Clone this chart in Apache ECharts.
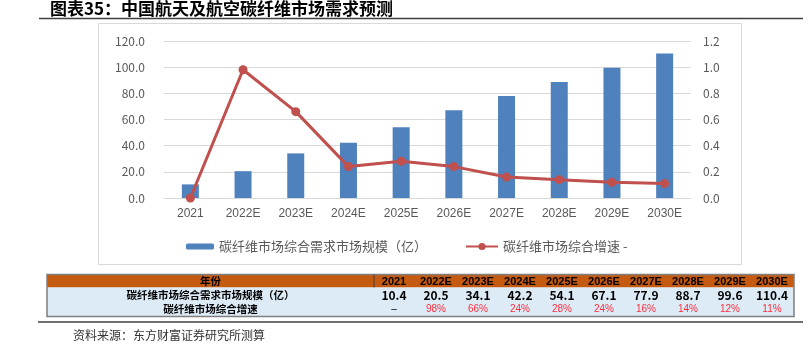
<!DOCTYPE html>
<html><head><meta charset="utf-8">
<script src="https://cdn.jsdelivr.net/npm/echarts@6/dist/echarts.min.js"></script>
<style>html,body{margin:0;padding:0;background:#fff}#c{width:809px;height:350px}</style>
</head><body><div id="c"></div>
<script>
const titleText = '图表35：中国航天及航空碳纤维市场需求预测';
const sourceText = '资料来源：东方财富证券研究所测算';
const categories = ['2021','2022E','2023E','2024E','2025E','2026E','2027E','2028E','2029E','2030E'];
const marketSize = [10.4,20.5,34.1,42.2,54.1,67.1,77.9,88.7,99.6,110.4];
const growthRate = [0,0.98,0.66,0.24,0.28,0.24,0.16,0.14,0.12,0.11];
const growthLabels = ['–','98%','66%','24%','28%','24%','16%','14%','12%','11%'];
const barName = '碳纤维市场综合需求市场规模（亿）';
const lineName = '碳纤维市场综合增速 -';
const tableHeader = '年份';
const tableRow1 = '碳纤维市场综合需求市场规模（亿）';
const tableRow2 = '碳纤维市场综合增速';

const FONT = '"Noto Sans CJK SC", "Noto Sans", sans-serif';
const chart = echarts.init(document.getElementById('c'), null, {renderer:'canvas'});

// table geometry
const tX = 47, tLabelW = 327, tColW = 42, tTop = 274.5, hH = 13, r1H = 14.5, r2H = 14.5;
const tW = tLabelW + tColW * categories.length;
const g = [];
// chart frame
g.push({type:'rect', z:-10, silent:true, shape:{x:98.5,y:23.5,width:643,height:241}, style:{fill:'#fff', stroke:'#d9d9d9', lineWidth:1}});
// title
g.push({type:'text', left:50, top:0, style:{text:titleText, font:'bold 17px ' + FONT, fill:'#000'}});
g.push({type:'line', shape:{x1:39,y1:18.5,x2:803,y2:18.5}, style:{stroke:'#404040', lineWidth:1.5}});
// table backgrounds
g.push({type:'rect', shape:{x:tX,y:tTop,width:tW,height:hH}, style:{fill:'#C55A11'}});
g.push({type:'rect', shape:{x:tX,y:tTop+hH,width:tW,height:r1H+r2H}, style:{fill:'#DDEBF7'}});
g.push({type:'rect', shape:{x:tX,y:tTop,width:tW,height:hH+r1H+r2H}, style:{fill:null, stroke:'#7f7f7f', lineWidth:1.5}});
g.push({type:'line', shape:{x1:tX+tLabelW,y1:tTop,x2:tX+tLabelW,y2:tTop+hH}, style:{stroke:'#404040', lineWidth:1}});
const labelCx = tX + tLabelW/2;
g.push({type:'text', style:{x:labelCx, y:tTop+hH/2+0.5, text:tableHeader, font:'bold 10.5px ' + FONT, fill:'#000', align:'center', verticalAlign:'middle'}});
g.push({type:'text', style:{x:labelCx, y:tTop+hH+r1H/2+0.5, text:tableRow1, font:'bold 10.5px ' + FONT, fill:'#000', align:'center', verticalAlign:'middle'}});
g.push({type:'text', style:{x:labelCx, y:tTop+hH+r1H+r2H/2, text:tableRow2, font:'bold 10.5px ' + FONT, fill:'#000', align:'center', verticalAlign:'middle'}});
categories.forEach((c,i)=>{
  const cx = tX + tLabelW + tColW*i + tColW/2 - 1;
  g.push({type:'text', style:{x:cx, y:tTop+hH/2+0.5, text:c, font:'bold 11px Arial, "Liberation Sans", sans-serif', fill:'#000', align:'center', verticalAlign:'middle'}});
  g.push({type:'text', style:{x:cx, y:tTop+hH+r1H/2+0.5, text:marketSize[i].toFixed(1), font:'bold 12px ' + FONT, fill:'#000', align:'center', verticalAlign:'middle'}});
  g.push({type:'text', style:{x:cx, y:tTop+hH+r1H+r2H/2, text:growthLabels[i], font:'10px Arial, "Liberation Sans", sans-serif', fill: i===0 ? '#000' : '#FF2D3C', align:'center', verticalAlign:'middle'}});
});
// bottom line and source
g.push({type:'line', shape:{x1:38,y1:322,x2:803,y2:322}, style:{stroke:'#404040', lineWidth:1.5}});
g.push({type:'text', style:{x:73, y:335, text:sourceText, font:'12px ' + FONT, fill:'#333', verticalAlign:'middle'}});

const option = {
  animation:false,
  textStyle:{fontFamily:FONT},
  grid:{left:164, right:118, top:41, bottom:152, containLabel:false},
  legend:[
    {data:[barName], left:181, top:235, itemWidth:28, itemHeight:6, itemGap:10,
     textStyle:{color:'#595959', fontSize:13, fontFamily:FONT}},
    {data:[lineName], left:460, top:235, itemWidth:32, itemHeight:9,
     textStyle:{color:'#595959', fontSize:13, fontFamily:FONT}}
  ],
  xAxis:{type:'category', data:categories,
    axisLine:{lineStyle:{color:'#d9d9d9'}}, axisTick:{show:false},
    axisLabel:{color:'#595959', fontSize:12, margin:10, fontFamily:'"Liberation Sans", Arial, sans-serif'}},
  yAxis:[
    {type:'value', min:0, max:120, interval:20,
     axisLabel:{color:'#595959', fontSize:12, margin:19, formatter:v=>v.toFixed(1)},
     splitLine:{lineStyle:{color:'#d9d9d9'}}, axisLine:{show:false}, axisTick:{show:false}},
    {type:'value', min:0, max:1.2, interval:0.2,
     axisLabel:{color:'#595959', fontSize:12, margin:12, formatter:v=>v.toFixed(1)},
     splitLine:{show:false}, axisLine:{show:false}, axisTick:{show:false}}
  ],
  series:[
    {name:barName, type:'bar', data:marketSize, barWidth:17, itemStyle:{color:'#4F81BD'}},
    {name:lineName, type:'line', yAxisIndex:1, data:growthRate, symbol:'circle', symbolSize:9,
     lineStyle:{color:'#C0504D', width:3}, itemStyle:{color:'#C0504D'}, z:3}
  ],
  graphic:g
};
chart.setOption(option);
</script></body></html>
